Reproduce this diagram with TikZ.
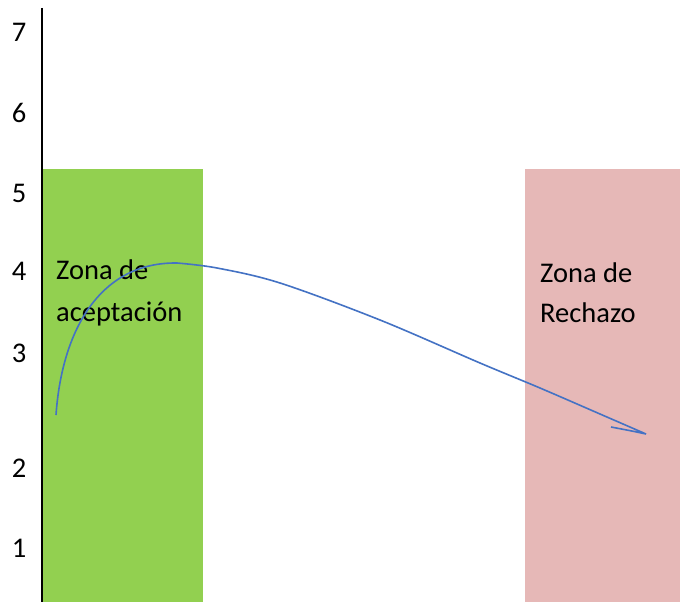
\documentclass[tikz,border=0pt]{standalone}
\usepackage{fontspec}
\setmainfont{Carlito}
\definecolor{zgreen}{HTML}{92D050}
\definecolor{zpink}{HTML}{E6B8B7}
\definecolor{cblue}{HTML}{4472C4}
\begin{document}
\begin{tikzpicture}[x=1pt,y=-1pt,
  lbl/.style={inner sep=0pt,anchor=base west,font=\fontsize{28.5}{36}\selectfont},
  tick/.style={inner sep=0pt,anchor=base,font=\fontsize{28.5}{36}\selectfont}]
\useasboundingbox (0,0) rectangle (680,602);
\fill[white] (0,0) rectangle (680,602);
% zones
\fill[zgreen] (43,169) rectangle (203,602);
\fill[zpink] (525,169) rectangle (680,602);
% axis
\draw[line width=2.4pt] (42,8) -- (42,602);
% tick labels
\node[tick] (t7) at (19,42) {7};
\node[tick] (t6) at (19,122) {6};
\node[tick] (t5) at (19,202) {5};
\node[tick] (t4) at (19,280) {4};
\node[tick] (t3) at (19,362) {3};
\node[tick] (t2) at (19,477) {2};
\node[tick] (t1) at (19,557) {1};
% zone labels
\node[lbl] (a1) at (56,279) {Zona de};
\node[lbl] (a2) at (56,321) {aceptación};
\node[lbl] (r1) at (540,282) {Zona de};
\node[lbl] (r2) at (540,322) {Rechazo};
% curve
\draw[cblue,line width=1.6pt,line join=miter]
  (56,415) .. controls (62,330) and (100,262) .. (177,263)
  -- plot[smooth,tension=0.55] coordinates {(177,263) (217,268) (280,283) (380,320) (480,363) (540,388) (600,414) (646,434)}
  .. controls (632,431) .. (611,427);
\end{tikzpicture}
\end{document}
